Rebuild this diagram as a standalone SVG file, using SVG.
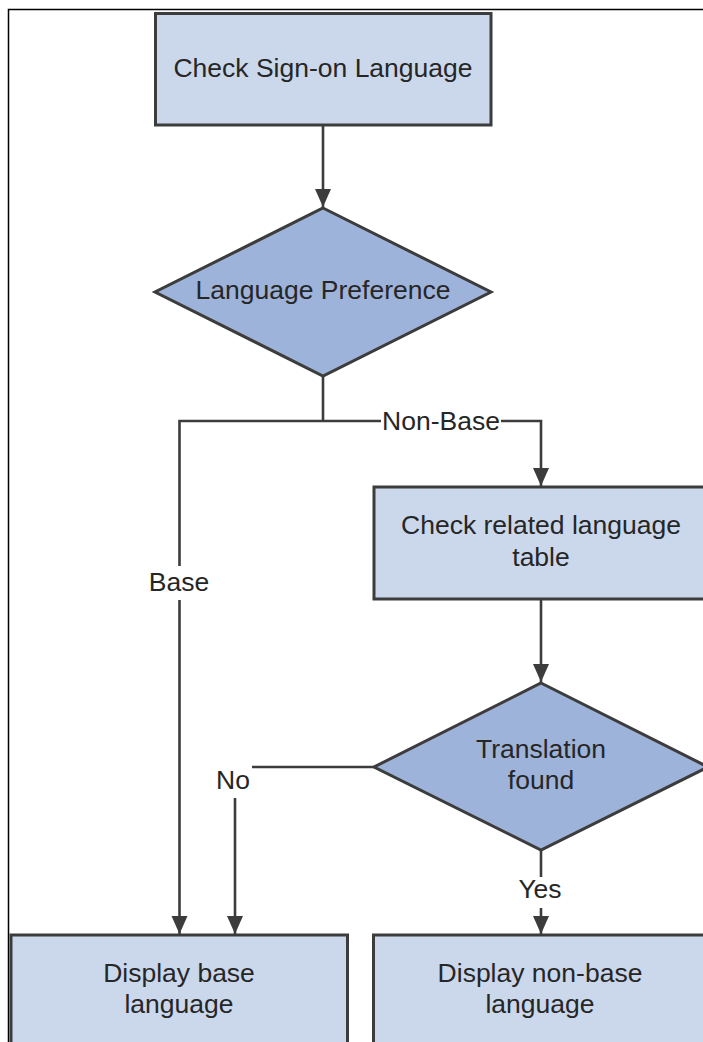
<svg xmlns="http://www.w3.org/2000/svg" width="703" height="1042" viewBox="0 0 703 1042">
<defs>
<style>
.box{fill:#cbd8ec;stroke:#3c3c3c;stroke-width:3}
.dia{fill:#9eb3da;stroke:#3c3c3c;stroke-width:3;stroke-linejoin:miter}
.t{font-family:"Liberation Sans",Arial,sans-serif;font-size:26.5px;fill:#262626;text-anchor:middle}
.c{fill:none;stroke:#3c3c3c;stroke-width:2.6}
</style>
<marker id="ah" markerUnits="userSpaceOnUse" markerWidth="18" markerHeight="18" refX="18" refY="8" orient="auto">
<path d="M0,0 L18,8 L0,16 Z" fill="#3c3c3c"/>
</marker>
</defs>
<rect width="703" height="1042" fill="#ffffff"/>
<path d="M8.5,1042 V9.5 H703" fill="none" stroke="#000" stroke-width="1.5"/>
<g id="connectors">
<path class="c" d="M323,125 V207" marker-end="url(#ah)"/>
<path class="c" d="M323,376 V421"/>
<path class="c" d="M323,421 H179.5 V566 M179.5,600 V934" marker-end="url(#ah)"/>
<path class="c" d="M323,421 H381 M501,421 H541 V486" marker-end="url(#ah)"/>
<path class="c" d="M541,599 V682" marker-end="url(#ah)"/>
<path class="c" d="M374,767 H252 M235,798 V934" marker-end="url(#ah)"/>
<path class="c" d="M541,850 V877 M541,908 V934" marker-end="url(#ah)"/>
<text class="t" x="441" y="430">Non-Base</text>
<text class="t" x="179" y="591">Base</text>
<text class="t" x="233" y="789">No</text>
<text class="t" x="540" y="898">Yes</text>
</g>
<g id="n1">
<rect class="box" x="155.5" y="13.5" width="335.5" height="111.5"/>
<text class="t" x="323" y="77">Check Sign-on Language</text>
</g>
<g id="n2">
<polygon class="dia" points="323,208 491,292 323,376 155,292"/>
<text class="t" x="323" y="299">Language Preference</text>
</g>
<g id="n3">
<rect class="box" x="374" y="487" width="336" height="112"/>
<text class="t" x="541" y="534">Check related language</text>
<text class="t" x="541" y="566">table</text>
</g>
<g id="n4">
<polygon class="dia" points="541,683 708,767 541,850 374,767"/>
<text class="t" x="541" y="758">Translation</text>
<text class="t" x="541" y="789">found</text>
</g>
<g id="n5">
<rect class="box" x="11" y="935" width="336.5" height="120"/>
<text class="t" x="179" y="982">Display base</text>
<text class="t" x="179" y="1013">language</text>
</g>
<g id="n6">
<rect class="box" x="373.5" y="935" width="336" height="120"/>
<text class="t" x="540" y="982">Display non-base</text>
<text class="t" x="540" y="1013">language</text>
</g>
</svg>
